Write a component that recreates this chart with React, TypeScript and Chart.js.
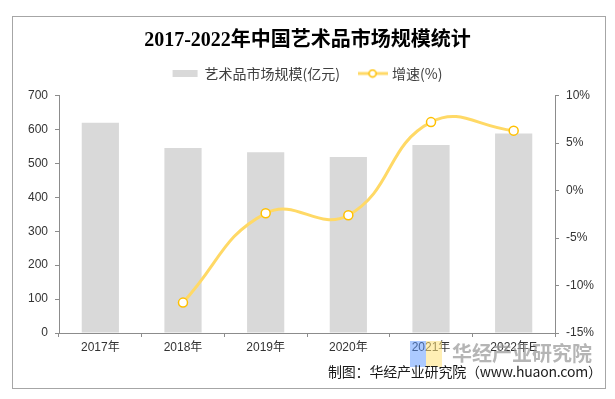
import React, { useEffect, useRef } from 'react';
import { Chart, registerables } from 'chart.js';

Chart.register(...registerables);

const categories = ['2017年', '2018年', '2019年', '2020年', '2021年', '2022年E'];
const marketSize = [620, 545, 533, 519, 554, 588];
const growthRate = [null, -11.8, -2.4, -2.6, 7.2, 6.3];
const sizeLabel = '艺术品市场规模(亿元)';
const growthLabel = '增速(%)';
const titleText = '2017-2022年中国艺术品市场规模统计';
const sourceText = '制图：华经产业研究院（www.huaon.com）';
const watermarkText = '华经产业研究院';

const BAR_COLOR = '#D9D9D9';
const LINE_COLOR = '#FFD966';
const POINT_BORDER = '#FFC000';
const AXIS_COLOR = '#8C8C8C';
const TEXT_COLOR = '#333333';
const SANS = '"Liberation Sans", Arial, "Noto Sans CJK SC", sans-serif';
const CJK = '"Noto Sans CJK SC", "Liberation Sans", sans-serif';

function makeLineIcon(): HTMLCanvasElement {
  const c = document.createElement('canvas');
  c.width = 30;
  c.height = 10;
  const ctx = c.getContext('2d')!;
  ctx.strokeStyle = LINE_COLOR;
  ctx.lineWidth = 3;
  ctx.beginPath();
  ctx.moveTo(0, 5);
  ctx.lineTo(30, 5);
  ctx.stroke();
  ctx.beginPath();
  ctx.arc(15, 5, 3.5, 0, Math.PI * 2);
  ctx.fillStyle = '#ffffff';
  ctx.fill();
  ctx.strokeStyle = POINT_BORDER;
  ctx.lineWidth = 1.5;
  ctx.stroke();
  return c;
}

const legendNudge = {
  id: 'legendNudge',
  afterLayout(chart: any) {
    const lg = chart.legend;
    if (lg) {
      lg.top -= 5;
      lg.bottom -= 5;
    }
  },
};

export default function App() {
  const ref = useRef<HTMLCanvasElement | null>(null);

  useEffect(() => {
    if (!ref.current) return;
    const lineIcon = makeLineIcon();
    const tickFont = { family: SANS, size: 12 };
    const chart = new Chart(ref.current, {
      type: 'bar',
      data: {
        labels: categories,
        datasets: [
          {
            type: 'bar',
            label: sizeLabel,
            data: marketSize,
            backgroundColor: BAR_COLOR,
            barPercentage: 0.45,
            categoryPercentage: 1,
            yAxisID: 'y',
            order: 2,
          } as any,
          {
            type: 'line',
            label: growthLabel,
            data: growthRate,
            yAxisID: 'y1',
            borderColor: LINE_COLOR,
            borderWidth: 3,
            tension: 0.45,
            pointRadius: 4.5,
            pointBackgroundColor: '#ffffff',
            pointBorderColor: POINT_BORDER,
            pointBorderWidth: 1.5,
            order: 1,
          } as any,
        ],
      },
      options: {
        responsive: false,
        animation: false,
        devicePixelRatio: 1,
        layout: { padding: 0 },
        plugins: {
          tooltip: { enabled: false },
          title: {
            display: true,
            text: titleText,
            color: '#000000',
            font: { family: '"Liberation Serif", "Noto Sans CJK SC", serif', size: 20, weight: 'bold', lineHeight: 1 },
            padding: { top: 31, bottom: 0.5 },
          },
          legend: {
            display: true,
            position: 'top',
            labels: {
              color: '#404040',
              font: { family: CJK, size: 14 },
              padding: 20,
              usePointStyle: true,
              pointStyleWidth: 25,
              boxHeight: 7,
              sort: (a: any, b: any) => a.datasetIndex - b.datasetIndex,
              generateLabels: (ch: any) => {
                const items = Chart.defaults.plugins.legend.labels.generateLabels(ch);
                return items.map((it: any) => {
                  if (it.datasetIndex === 0) {
                    return { ...it, pointStyle: 'rect', fillStyle: BAR_COLOR, strokeStyle: BAR_COLOR, lineWidth: 0 };
                  }
                  return { ...it, pointStyle: lineIcon, lineWidth: 0 };
                });
              },
            },
          },
        },
        scales: {
          x: {
            grid: { display: true, drawOnChartArea: false, offset: true, tickLength: 4, color: AXIS_COLOR },
            border: { display: true, color: AXIS_COLOR },
            ticks: { font: tickFont, color: TEXT_COLOR, padding: 3, maxRotation: 0 },
            afterFit: (s: any) => {
              s.height = 66;
            },
          },
          y: {
            position: 'left',
            min: 0,
            max: 700,
            ticks: { stepSize: 100, font: tickFont, color: TEXT_COLOR, padding: 7 },
            grid: { drawOnChartArea: false, tickLength: 4, color: AXIS_COLOR },
            border: { display: true, color: AXIS_COLOR },
            afterFit: (s: any) => {
              s.width = 59;
            },
          },
          y1: {
            position: 'right',
            min: -15,
            max: 10,
            ticks: {
              stepSize: 5,
              font: tickFont,
              color: TEXT_COLOR,
              padding: 7,
              callback: (v: any) => `${v}%`,
            },
            grid: { drawOnChartArea: false, tickLength: 4, color: AXIS_COLOR },
            border: { display: true, color: AXIS_COLOR },
            afterFit: (s: any) => {
              s.width = 60;
            },
          },
        },
      } as any,
      plugins: [legendNudge],
    });
    return () => chart.destroy();
  }, []);

  return (
    <div style={{ position: 'fixed', left: 0, top: 0, width: 615, height: 399, background: '#ffffff', overflow: 'hidden' }}>
      <div
        style={{
          position: 'absolute',
          left: 12,
          top: 16,
          width: 594,
          height: 373,
          boxSizing: 'border-box',
          border: '1px solid #A6A6A6',
        }}
      />
      <canvas ref={ref} width={615} height={399} style={{ position: 'absolute', left: 0, top: 0, width: 615, height: 399 }} />
      <div style={{ position: 'absolute', left: 410, top: 341, width: 16, height: 26, background: 'rgba(90,150,255,0.5)', pointerEvents: 'none' }} />
      <div style={{ position: 'absolute', left: 426, top: 341, width: 16, height: 26, background: 'rgba(255,225,120,0.55)', pointerEvents: 'none' }} />
      <div
        style={{
          position: 'absolute',
          left: 452,
          top: 343,
          fontFamily: CJK,
          fontSize: 20,
          lineHeight: '20px',
          fontWeight: 'bold',
          color: 'rgba(150,150,150,0.7)',
          whiteSpace: 'nowrap',
          pointerEvents: 'none',
        }}
      >
        {watermarkText}
      </div>
      <div
        style={{
          position: 'absolute',
          left: 328,
          top: 364,
          fontFamily: CJK,
          fontSize: 14,
          lineHeight: '14px',
          color: '#1a1a1a',
          whiteSpace: 'nowrap',
          letterSpacing: -0.2,
          pointerEvents: 'none',
        }}
      >
        {sourceText}
      </div>
    </div>
  );
}
